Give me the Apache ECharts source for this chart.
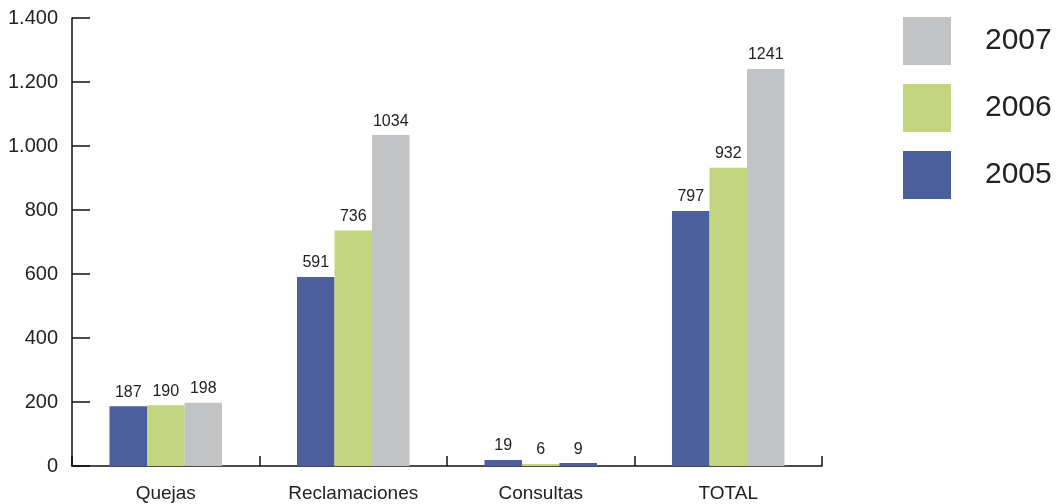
<!DOCTYPE html>
<html><head><meta charset="utf-8">
<script src="https://cdn.jsdelivr.net/npm/echarts@6/dist/echarts.min.js"></script>
<style>html,body{margin:0;padding:0;background:#fff}#c{width:1057px;height:504px}</style>
</head><body><div id="c"></div>
<script>
const categories = ['Quejas', 'Reclamaciones', 'Consultas', 'TOTAL'];
const s2005 = [187, 591, 19, 797];
const s2006 = [190, 736, 6, 932];
const s2007 = [198, 1034, 9, 1241];
const yTicks = [0, 200, 400, 600, 800, 1000, 1200, 1400];

const BLUE = '#4a5f9c', GREEN = '#c3d67f', GRAY = '#c2c3c5';
const FONT = 'Liberation Sans';
const fmt = v => String(v).replace(/\B(?=(\d{3})+(?!\d))/g, '.');

const chart = echarts.init(document.getElementById('c'), null, {renderer: 'canvas'});
const label = {show: true, position: 'top', distance: 6, color: '#222', fontSize: 16, fontFamily: FONT};
chart.setOption({
  animation: false,
  textStyle: {fontFamily: FONT},
  grid: {left: 72, right: 235, top: 18, bottom: 38, containLabel: false},
  legend: {
    data: ['2007', '2006', '2005'],
    orient: 'vertical', left: 898, top: 12,
    itemWidth: 48, itemHeight: 48, itemGap: 19, icon: 'rect',
    textStyle: {fontSize: 30, color: '#222', fontFamily: FONT, padding: [0, 0, 0, 29]}
  },
  xAxis: {
    type: 'category', data: categories,
    axisLine: {lineStyle: {color: '#111', width: 1.5}},
    axisTick: {show: true, inside: true, length: 10, lineStyle: {color: '#111', width: 1.5}},
    axisLabel: {color: '#222', fontSize: 19, margin: 18, fontFamily: FONT}
  },
  yAxis: {
    type: 'value', min: yTicks[0], max: yTicks[yTicks.length - 1], interval: 200,
    axisLine: {show: true, lineStyle: {color: '#111', width: 1.5}},
    axisTick: {show: true, inside: true, length: 18, lineStyle: {color: '#111', width: 1.5}},
    splitLine: {show: false},
    axisLabel: {color: '#222', fontSize: 20, margin: 14, fontFamily: FONT, formatter: fmt, padding: [6, 0, 0, 0]}
  },
  series: [
    {name: '2005', type: 'bar', data: s2005, itemStyle: {color: BLUE}, label, barGap: '0%', barCategoryGap: '40%'},
    {name: '2006', type: 'bar', data: s2006, itemStyle: {color: GREEN}, label},
    {name: '2007', type: 'bar', itemStyle: {color: GRAY}, label,
     data: s2007.map((v, i) => categories[i] === 'Consultas' ? {value: v, itemStyle: {color: BLUE}} : v)}
  ]
});
</script></body></html>
